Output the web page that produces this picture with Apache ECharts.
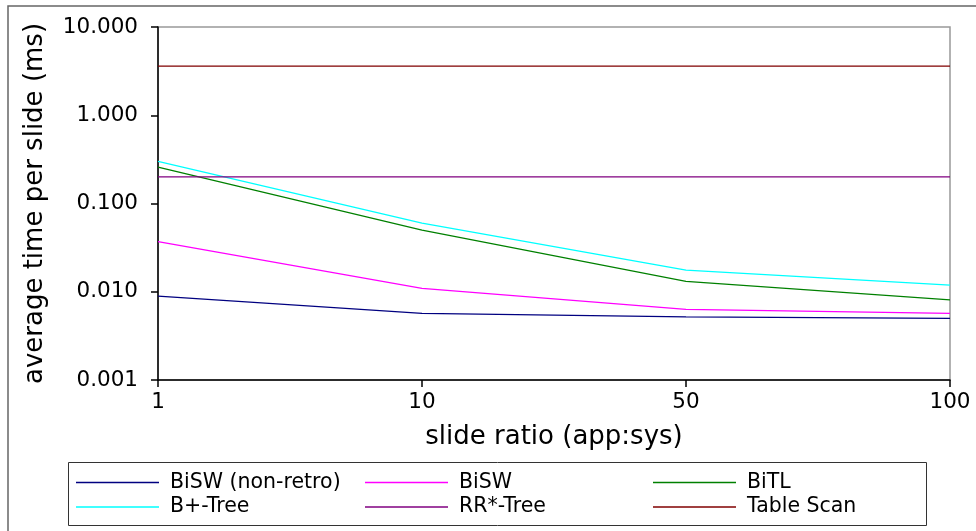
<!DOCTYPE html>
<html>
<head>
<meta charset="utf-8">
<script src="https://cdn.jsdelivr.net/npm/echarts@6/dist/echarts.min.js"></script>
<style>
html, body { margin: 0; padding: 0; background: #fff; }
#chart { width: 976px; height: 531px; }
</style>
</head>
<body>
<div id="chart"></div>
<script>
// slide ratio categories
const ratios = ['1', '10', '50', '100']
// average time per slide (ms)
const biSwNonRetro = [0.0089, 0.0057, 0.0052, 0.0050]
const biSw = [0.037, 0.0109, 0.0063, 0.0057]
const biTl = [0.258, 0.050, 0.0131, 0.0081]
const bTree = [0.30, 0.060, 0.0176, 0.0119]
const rrTree = [0.20, 0.20, 0.20, 0.20]
const tableScan = [3.6, 3.6, 3.6, 3.6]

const names = ['BiSW (non-retro)', 'BiSW', 'BiTL', 'B+-Tree', 'RR*-Tree', 'Table Scan']
const colors = ['#000080', '#ff00ff', '#008000', '#00ffff', '#800080', '#800000']
const values = [biSwNonRetro, biSw, biTl, bTree, rrTree, tableScan]

const font = 'DejaVu Sans'

const chart = echarts.init(document.getElementById('chart'))

// one small vertical legend per column so the columns line up
function legendColumn (left, items) {
    return {
        orient: 'vertical',
        left: left,
        top: 472,
        padding: 0,
        itemWidth: 83,
        itemHeight: 1.5,
        itemGap: 3.5,
        icon: 'rect',
        selectedMode: false,
        data: items,
        textStyle: {
            fontFamily: font,
            fontSize: 20.5,
            lineHeight: 20.5,
            color: '#000',
            padding: [0, 0, 0, 6]
        }
    }
}

const option = {
    animation: false,
    backgroundColor: '#fff',
    color: colors,
    textStyle: { fontFamily: font },
    grid: {
        left: 158,
        right: 26,
        top: 27,
        bottom: 151,
        show: true,
        borderColor: '#999',
        borderWidth: 1.5
    },
    legend: [
        legendColumn(76, [names[0], names[3]]),
        legendColumn(365, [names[1], names[4]]),
        legendColumn(653, [names[2], names[5]])
    ],
    graphic: [
        {
            type: 'rect',
            shape: { x: 8, y: 6, width: 1100, height: 1000 },
            style: { fill: null, stroke: '#666', lineWidth: 1.5 },
            silent: true
        },
        {
            type: 'rect',
            shape: { x: 68.5, y: 462.5, width: 858, height: 63 },
            style: { fill: null, stroke: '#333', lineWidth: 1 },
            silent: true
        }
    ],
    xAxis: {
        type: 'category',
        data: ratios,
        boundaryGap: false,
        name: 'slide ratio (app:sys)',
        nameLocation: 'middle',
        nameGap: 44,
        nameTextStyle: { fontFamily: font, fontSize: 26, color: '#000' },
        axisLine: { lineStyle: { color: '#000', width: 1.5 } },
        axisTick: { length: 7, lineStyle: { color: '#000', width: 1.5 } },
        axisLabel: { fontFamily: font, fontSize: 21.5, color: '#000', margin: 11 },
        splitLine: { show: false }
    },
    yAxis: {
        type: 'log',
        logBase: 10,
        min: 0.001,
        max: 10,
        name: 'average time per slide (ms)',
        nameLocation: 'middle',
        nameGap: 110,
        nameTextStyle: { fontFamily: font, fontSize: 26, color: '#000' },
        axisLine: { show: true, lineStyle: { color: '#000', width: 1.5 } },
        axisTick: { show: true, length: 7, lineStyle: { color: '#000', width: 1.5 } },
        axisLabel: {
            fontFamily: font,
            fontSize: 21.5,
            color: '#000',
            margin: 20,
            formatter: function (v) { return v.toFixed(3) }
        },
        splitLine: { show: false }
    },
    series: names.map(function (name, i) {
        return {
            name: name,
            type: 'line',
            data: values[i],
            symbol: 'none',
            lineStyle: { color: colors[i], width: 1.3 },
            itemStyle: { color: colors[i] }
        }
    })
}

chart.setOption(option)
</script>
</body>
</html>
